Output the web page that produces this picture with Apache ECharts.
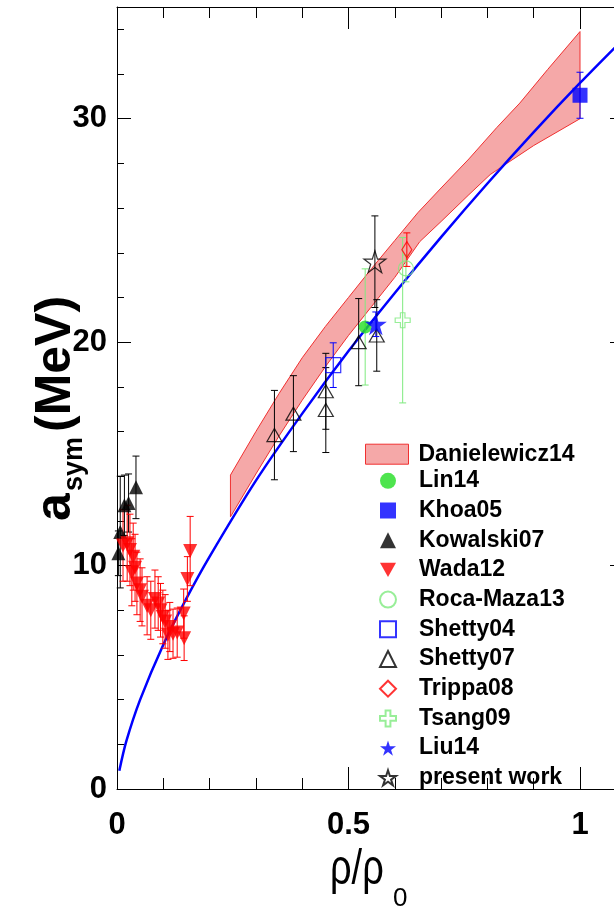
<!DOCTYPE html>
<html><head><meta charset="utf-8">
<script src="https://cdn.jsdelivr.net/npm/echarts@6/dist/echarts.min.js"></script>
<style>html,body{margin:0;padding:0;background:#fff;}#chart{width:614px;height:912px;}</style>
</head><body><div id="chart"></div>
<script>
// ---- data ----
const xMajorTicks = [0, 0.5, 1];
const xMinorTicks = [0.1, 0.2, 0.3, 0.4, 0.6, 0.7, 0.8, 0.9];
const yMajorTicks = [0, 10, 20, 30];
const yMinorTicks = [2, 4, 6, 8, 12, 14, 16, 18, 22, 24, 26, 28, 32, 34];

// Liu14 fit curve (blue)
const curveX = [0.005, 0.02, 0.05, 0.1, 0.15, 0.2, 0.3, 0.4, 0.5, 0.6, 0.7, 0.8, 0.9, 1.0, 1.1];
const curveY = [0.82, 2.13, 4.0, 6.46, 8.53, 10.4, 13.8, 16.8, 19.6, 22.2, 24.7, 27.1, 29.4, 31.6, 33.7];

// Danielewicz14 band
const bandUpperX = [0.245, 0.30, 0.35, 0.40, 0.45, 0.50, 0.55, 0.60, 0.65, 0.70, 0.76, 0.82, 0.87, 0.93, 1.0];
const bandUpperY = [14.05, 16.0, 17.7, 19.3, 20.7, 22.0, 23.3, 24.55, 25.8, 26.9, 28.2, 29.6, 30.7, 32.2, 33.9];
const bandLowerX = [0.245, 0.30, 0.35, 0.40, 0.45, 0.50, 0.55, 0.60, 0.654, 0.70, 0.76, 0.806, 0.842, 0.90, 1.0];
const bandLowerY = [12.18, 14.1, 15.8, 17.4, 18.9, 20.3, 21.6, 22.9, 24.5, 25.4, 26.6, 27.5, 28.0, 28.8, 30.0];

// Lin14
const linX = [0.536]; const linY = [20.68]; const linErr = [2.6];
// Khoa05
const khoaX = [1.0]; const khoaY = [31.05]; const khoaErr = [1.03];
// Kowalski07
const kowX = [0.003, 0.007, 0.016, 0.025, 0.041];
const kowY = [10.55, 11.5, 12.7, 12.8, 13.5];
const kowErr = [1.0, 2.5, 1.35, 1.3, 1.4];
// Wada12
const wadaX = [0.013, 0.022, 0.028, 0.032, 0.035, 0.039, 0.043, 0.050, 0.054, 0.065, 0.073, 0.082, 0.089, 0.094, 0.099, 0.104, 0.110, 0.114, 0.121, 0.130, 0.144, 0.145, 0.152, 0.158];
const wadaY = [10.9, 11.0, 10.7, 9.7, 10.4, 9.9, 9.2, 8.9, 8.6, 8.2, 8.0, 8.5, 8.3, 8.0, 7.7, 7.5, 6.9, 7.25, 6.95, 7.0, 7.85, 6.75, 9.4, 10.65];
const wadaErr = [1.6, 1.7, 1.6, 1.5, 1.5, 1.5, 1.4, 1.4, 1.3, 1.3, 1.3, 1.3, 1.2, 1.2, 1.2, 1.2, 1.1, 1.1, 1.1, 1.1, 1.1, 1.0, 1.0, 1.55];
// Roca-Maza13
const rocaX = [0.624]; const rocaY = [23.3]; const rocaErr = [0.6];
// Shetty04
const sh04X = [0.467]; const sh04Y = [18.97]; const sh04Err = [1.0];
// Shetty07
const sh07X = [0.340, 0.381, 0.451, 0.451, 0.522, 0.561];
const sh07Y = [15.84, 16.8, 17.8, 16.96, 20.0, 20.3];
const sh07Err = [2.0, 1.7, 1.7, 1.9, 1.95, 1.6];
// Trippa08
const tripX = [0.626]; const tripY = [24.14]; const tripErr = [0.75];
// Tsang09
const tsangX = [0.617]; const tsangY = [20.98]; const tsangErr = [3.7];
// Liu14
const liuX = [0.559]; const liuY = [20.8]; const liuErr = [0.55];
// present work
const presX = [0.557]; const presY = [23.6]; const presErr = [2.05];

// ---- chart ----
const FONT = '"Liberation Sans", Arial, Helvetica, sans-serif';
const STAR = 'path://M50,0L61.2,34.5L97.6,34.5L68.2,55.9L79.4,90.5L50,69.1L20.6,90.5L31.8,55.9L2.4,34.5L38.8,34.5Z';
const CROSS = 'path://M35,0L65,0L65,35L100,35L100,65L65,65L65,100L35,100L35,65L0,65L0,35L35,35Z';
const DOWN = 'path://M0,0L100,0L50,90Z';
const GREEN = '#22dd22', LGREEN = '#7eea7e', BLUE = '#0000ff', RED = '#ff0000';
const XMAX = 1.0734;

function pts(xs, ys) { return xs.map((x, i) => [x, ys[i]]); }

function errSeries(name, xs, ys, err, color) {
  return {
    type: 'custom', name: name + ' err', z: 4, silent: true,
    data: xs.map((x, i) => [x, ys[i] - err[i], ys[i] + err[i]]),
    encode: { x: 0, y: [1, 2] },
    renderItem: function (params, api) {
      const x = api.value(0);
      const p1 = api.coord([x, api.value(1)]);
      const p2 = api.coord([x, api.value(2)]);
      const st = { stroke: color, lineWidth: 1 };
      return { type: 'group', children: [
        { type: 'line', shape: { x1: p1[0], y1: p1[1], x2: p2[0], y2: p2[1] }, style: st },
        { type: 'line', shape: { x1: p1[0] - 3.5, y1: p1[1], x2: p1[0] + 3.5, y2: p1[1] }, style: st },
        { type: 'line', shape: { x1: p2[0] - 3.5, y1: p2[1], x2: p2[0] + 3.5, y2: p2[1] }, style: st }
      ] };
    }
  };
}

function scat(name, xs, ys, symbol, size, itemStyle, z) {
  return { type: 'scatter', name: name, data: pts(xs, ys), symbol: symbol, symbolSize: size,
    itemStyle: itemStyle, z: z || 5, silent: true };
}

const hollow = c => ({ color: 'rgba(255,255,255,0)', borderColor: c, borderWidth: 1.2 });

const series = [
  {
    type: 'custom', name: 'Danielewicz14', z: 1, silent: true,
    data: [[0.6, 24]],
    encode: { x: 0, y: 1 },
    itemStyle: { color: '#f5a8a8' },
    renderItem: function (params, api) {
      const up = bandUpperX.map((x, i) => api.coord([x, bandUpperY[i]]));
      const lo = bandLowerX.map((x, i) => api.coord([x, bandLowerY[i]])).reverse();
      return { type: 'polygon', shape: { points: up.concat(lo) },
        style: { fill: '#f5a8a8', stroke: '#f03030', lineWidth: 1 } };
    }
  },
  { type: 'line', name: 'curve', data: pts(curveX, curveY), smooth: 0.3, showSymbol: false,
    lineStyle: { color: BLUE, width: 2.5 }, z: 2, silent: true },
  errSeries('Kowalski07', kowX, kowY, kowErr, '#000'),
  errSeries('Wada12', wadaX, wadaY, wadaErr, RED),
  errSeries('Shetty07', sh07X, sh07Y, sh07Err, '#000'),
  errSeries('present work', presX, presY, presErr, '#000'),
  errSeries('Lin14', linX, linY, linErr, LGREEN),
  errSeries('Tsang09', tsangX, tsangY, tsangErr, LGREEN),
  errSeries('Roca-Maza13', rocaX, rocaY, rocaErr, LGREEN),
  errSeries('Shetty04', sh04X, sh04Y, sh04Err, BLUE),
  errSeries('Trippa08', tripX, tripY, tripErr, RED),
  errSeries('Liu14', liuX, liuY, liuErr, BLUE),
  errSeries('Khoa05', khoaX, khoaY, khoaErr, BLUE),
  scat('Lin14', linX, linY, 'circle', 13, { color: GREEN }),
  scat('Khoa05', khoaX, khoaY, 'rect', 15, { color: BLUE }),
  scat('Kowalski07', kowX, kowY, 'triangle', 14, { color: '#000' }),
  scat('Wada12', wadaX, wadaY, DOWN, 14, { color: RED }),
  scat('Roca-Maza13', rocaX, rocaY, 'circle', 15, hollow(LGREEN)),
  scat('Shetty04', sh04X, sh04Y, 'rect', 15, hollow(BLUE)),
  scat('Shetty07', sh07X, sh07Y, 'triangle', [15, 13], hollow('#000')),
  scat('Trippa08', tripX, tripY, 'diamond', [10, 16], hollow(RED)),
  scat('Tsang09', tsangX, tsangY, CROSS, 15, hollow(LGREEN)),
  scat('Liu14', liuX, liuY, STAR, 22, { color: BLUE }, 6),
  scat('present work', presX, presY, STAR, 22, hollow('#000'), 6)
];

function xAx(pos, ticks, len, labels, line) {
  return { type: 'value', min: 0, max: XMAX, position: pos,
    axisLine: { show: line, onZero: false, lineStyle: { color: '#000', width: 1 } },
    axisTick: { show: true, inside: true, length: len, customValues: ticks, lineStyle: { color: '#000', width: 1 } },
    axisLabel: { show: labels, customValues: ticks, fontSize: 31, fontWeight: 'bold', color: '#000', fontFamily: FONT, margin: 21 },
    splitLine: { show: false } };
}
function yAx(pos, ticks, len, labels, line) {
  return { type: 'value', min: 0, max: 35, position: pos,
    axisLine: { show: line, onZero: false, lineStyle: { color: '#000', width: 1 } },
    axisTick: { show: true, inside: true, length: len, customValues: ticks, lineStyle: { color: '#000', width: 1 } },
    axisLabel: { show: labels, customValues: ticks, fontSize: 31, fontWeight: 'bold', color: '#000', fontFamily: FONT, margin: 10 },
    splitLine: { show: false } };
}

const legendText = { fontSize: 23, fontWeight: 'bold', color: '#000', fontFamily: FONT, lineHeight: 20 };

const option = {
  animation: false,
  backgroundColor: '#fff',
  grid: { left: 117, top: 7, right: 0, height: 782, containLabel: false },
  xAxis: [ xAx('bottom', xMajorTicks, 22, true, true), xAx('bottom', xMinorTicks, 11, false, false),
           xAx('top', xMajorTicks, 22, false, true), xAx('top', xMinorTicks, 11, false, false) ],
  yAxis: [ yAx('left', yMajorTicks, 14, true, true), yAx('left', yMinorTicks, 7, false, false),
           yAx('right', [10, 20, 30], 4, false, false) ],
  legend: [
    { data: [{ name: 'Danielewicz14', icon: 'rect', itemStyle: { color: '#f5a8a8', borderColor: '#f03030', borderWidth: 1 } }],
      left: 365, top: 442.7, padding: 0, itemWidth: 43, itemHeight: 20, selectedMode: false,
      textStyle: Object.assign({ padding: [0, 0, 0, 5] }, legendText) },
    { data: ['Lin14', 'Khoa05', 'Kowalski07', 'Wada12', 'Roca-Maza13', 'Shetty04', 'Shetty07', 'Trippa08', 'Tsang09', 'Liu14', 'present work'],
      orient: 'vertical', left: 379, top: 469.3, padding: 0, itemWidth: 16, itemHeight: 16, itemGap: 6.7, selectedMode: false,
      textStyle: Object.assign({ padding: [0, 0, 0, 18] }, legendText) }
  ],
  graphic: [
    { type: 'text', x: 56, y: 521, rotation: Math.PI / 2, silent: true,
      style: { text: 'a', fontSize: 50, fontWeight: 'bold', fontFamily: FONT, fill: '#000', align: 'left', verticalAlign: 'middle' } },
    { type: 'text', x: 75, y: 491, rotation: Math.PI / 2, silent: true,
      style: { text: 'sym', fontSize: 27, fontWeight: 'bold', fontFamily: FONT, fill: '#000', align: 'left', verticalAlign: 'middle' } },
    { type: 'text', x: 56, y: 432, rotation: Math.PI / 2, silent: true,
      style: { text: '(MeV)', fontSize: 50, fontWeight: 'bold', fontFamily: FONT, fill: '#000', align: 'left', verticalAlign: 'middle' } },
    { type: 'text', x: 330, y: 870, scaleY: 1.3, silent: true,
      style: { text: 'ρ/ρ', fontSize: 38, fontFamily: FONT, fill: '#000', align: 'left', verticalAlign: 'middle' } },
    { type: 'text', x: 393, y: 899, silent: true,
      style: { text: '0', fontSize: 26, fontFamily: FONT, fill: '#000', align: 'left', verticalAlign: 'middle' } }
  ],
  series: series
};

const chart = echarts.init(document.getElementById('chart'), null, { renderer: 'canvas' });
chart.setOption(option);
</script>
</body></html>
